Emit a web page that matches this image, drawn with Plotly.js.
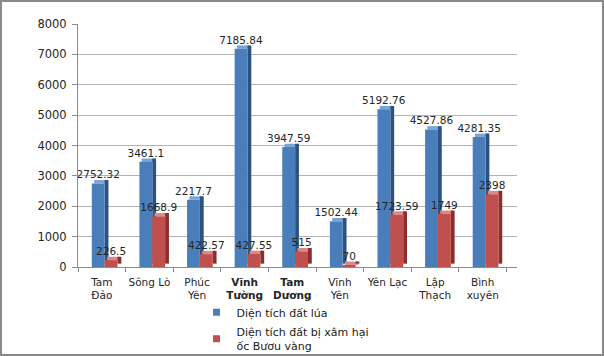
<!DOCTYPE html>
<html>
<head>
<meta charset="utf-8">
<script src="https://cdn.plot.ly/plotly-3.0.1.min.js"></script>
<style>
html,body{margin:0;padding:0;background:#fff;}
#frame{position:absolute;left:0;top:0;width:600px;height:352px;border:2px solid #8a8a8a;}
#chart{width:600px;height:352px;}
</style>
</head>
<body>
<div id="frame"><div id="chart"></div></div>
<script>
// ---- data ----
var categories = ["Tam<br>Đảo", "Sông Lò", "Phúc<br>Yên", "<b>Vĩnh<br>Tường</b>", "<b>Tam<br>Dương</b>", "Vĩnh<br>Yên", "Yên Lạc", "Lập<br>Thạch", "Bình<br>xuyên"];
var riceArea = [2752.32, 3461.1, 2217.7, 7185.84, 3947.59, 1502.44, 5192.76, 4527.86, 4281.35];
var snailArea = [226.5, 1668.9, 422.57, 427.55, 515, 70, 1723.59, 1749, 2398];
var riceLabels = ["2752.32", "3461.1", "2217.7", "7185.84", "3947.59", "1502.44", "5192.76", "4527.86", "4281.35"];
var snailLabels = ["226.5", "1668.9", "422.57", "427.55", "515", "70", "1723.59", "1749", "2398"];
var seriesNames = ["Diện tích đất lúa", "Diện tích đất bị xâm hại<br>ốc Bươu vàng"];
var yTicks = [0, 1000, 2000, 3000, 4000, 5000, 6000, 7000, 8000];

// ---- styles ----
var FONT = "DejaVu Sans";
var lift = 110; // pseudo-3D depth in data units
var blue = {front: "#4a7ebb", side: "#2c5282", top: "#7aa3d6"};
var red = {front: "#c0504d", side: "#8c2d2b", top: "#d98987"};

function barSet(vals, labels, col, off) {
  var w = 0.27, sw = 0.08;
  var sideBase = vals.map(function(){return lift;});
  var capBase = vals.slice();
  var capH = vals.map(function(){return lift;});
  return [
    {type: "bar", x: categories, y: vals, offset: off, width: w,
     marker: {color: col.front, line: {width: 0}}, showlegend: false,
     text: labels, textposition: "outside", cliponaxis: false, constraintext: "none",
     textangle: 0,
     textfont: {family: FONT, size: 10.5, color: "#262626"}, hoverinfo: "skip"},
    {type: "bar", x: categories, y: vals, base: sideBase, offset: off + w, width: sw,
     marker: {color: col.side, line: {width: 0}}, showlegend: false, hoverinfo: "skip"},
    {type: "bar", x: categories, y: capH, base: capBase, offset: off + sw * 0.6, width: w,
     marker: {color: col.top, line: {width: 0}}, showlegend: false, hoverinfo: "skip"}
  ];
}

var traces = [];
var b = barSet(riceArea, riceLabels, blue, -0.21);
var r = barSet(snailArea, snailLabels, red, 0.06);
traces.push(b[2], b[1], b[0], r[2], r[1], r[0]);

// legend entries
traces.push({type: "scatter", mode: "markers", x: [null], y: [null], name: seriesNames[0],
  legendgroup: "a", marker: {symbol: "square", size: 7, color: blue.front}});
traces.push({type: "scatter", mode: "markers", x: [null], y: [null], name: seriesNames[1],
  legendgroup: "b", marker: {symbol: "square", size: 7, color: red.front}});

var layout = {
  width: 600, height: 352,
  margin: {l: 76, r: 85, t: 22, b: 87, autoexpand: false},
  paper_bgcolor: "#fff", plot_bgcolor: "#fff",
  barmode: "overlay",
  showlegend: true,
  legend: {x: 0.27, xanchor: "left", y: -0.127, yanchor: "top",
    font: {family: FONT, size: 11, color: "#1a1a1a"}, tracegroupgap: 1,
    bgcolor: "rgba(0,0,0,0)"},
  xaxis: {type: "category", range: [-0.5, 8.72], showline: true, linecolor: "#8c8c8c",
    ticks: "outside", tickson: "boundaries", ticklen: 4, tickcolor: "#8c8c8c",
    tickangle: 0, automargin: false, ticklabelstandoff: 5,
    showgrid: false, tickfont: {family: FONT, size: 10.5, color: "#262626"}, fixedrange: true},
  yaxis: {range: [0, 8000], tickvals: yTicks, showline: true, linecolor: "#8c8c8c",
    ticks: "outside", ticklen: 5, tickcolor: "#8c8c8c", gridcolor: "#b3b3b3",
    automargin: false, ticklabelstandoff: 3,
    zeroline: false, tickfont: {family: FONT, size: 11.5, color: "#262626"}, fixedrange: true},
  font: {family: FONT}
};

Plotly.newPlot("chart", traces, layout, {displayModeBar: false, staticPlot: true});
</script>
</body>
</html>
